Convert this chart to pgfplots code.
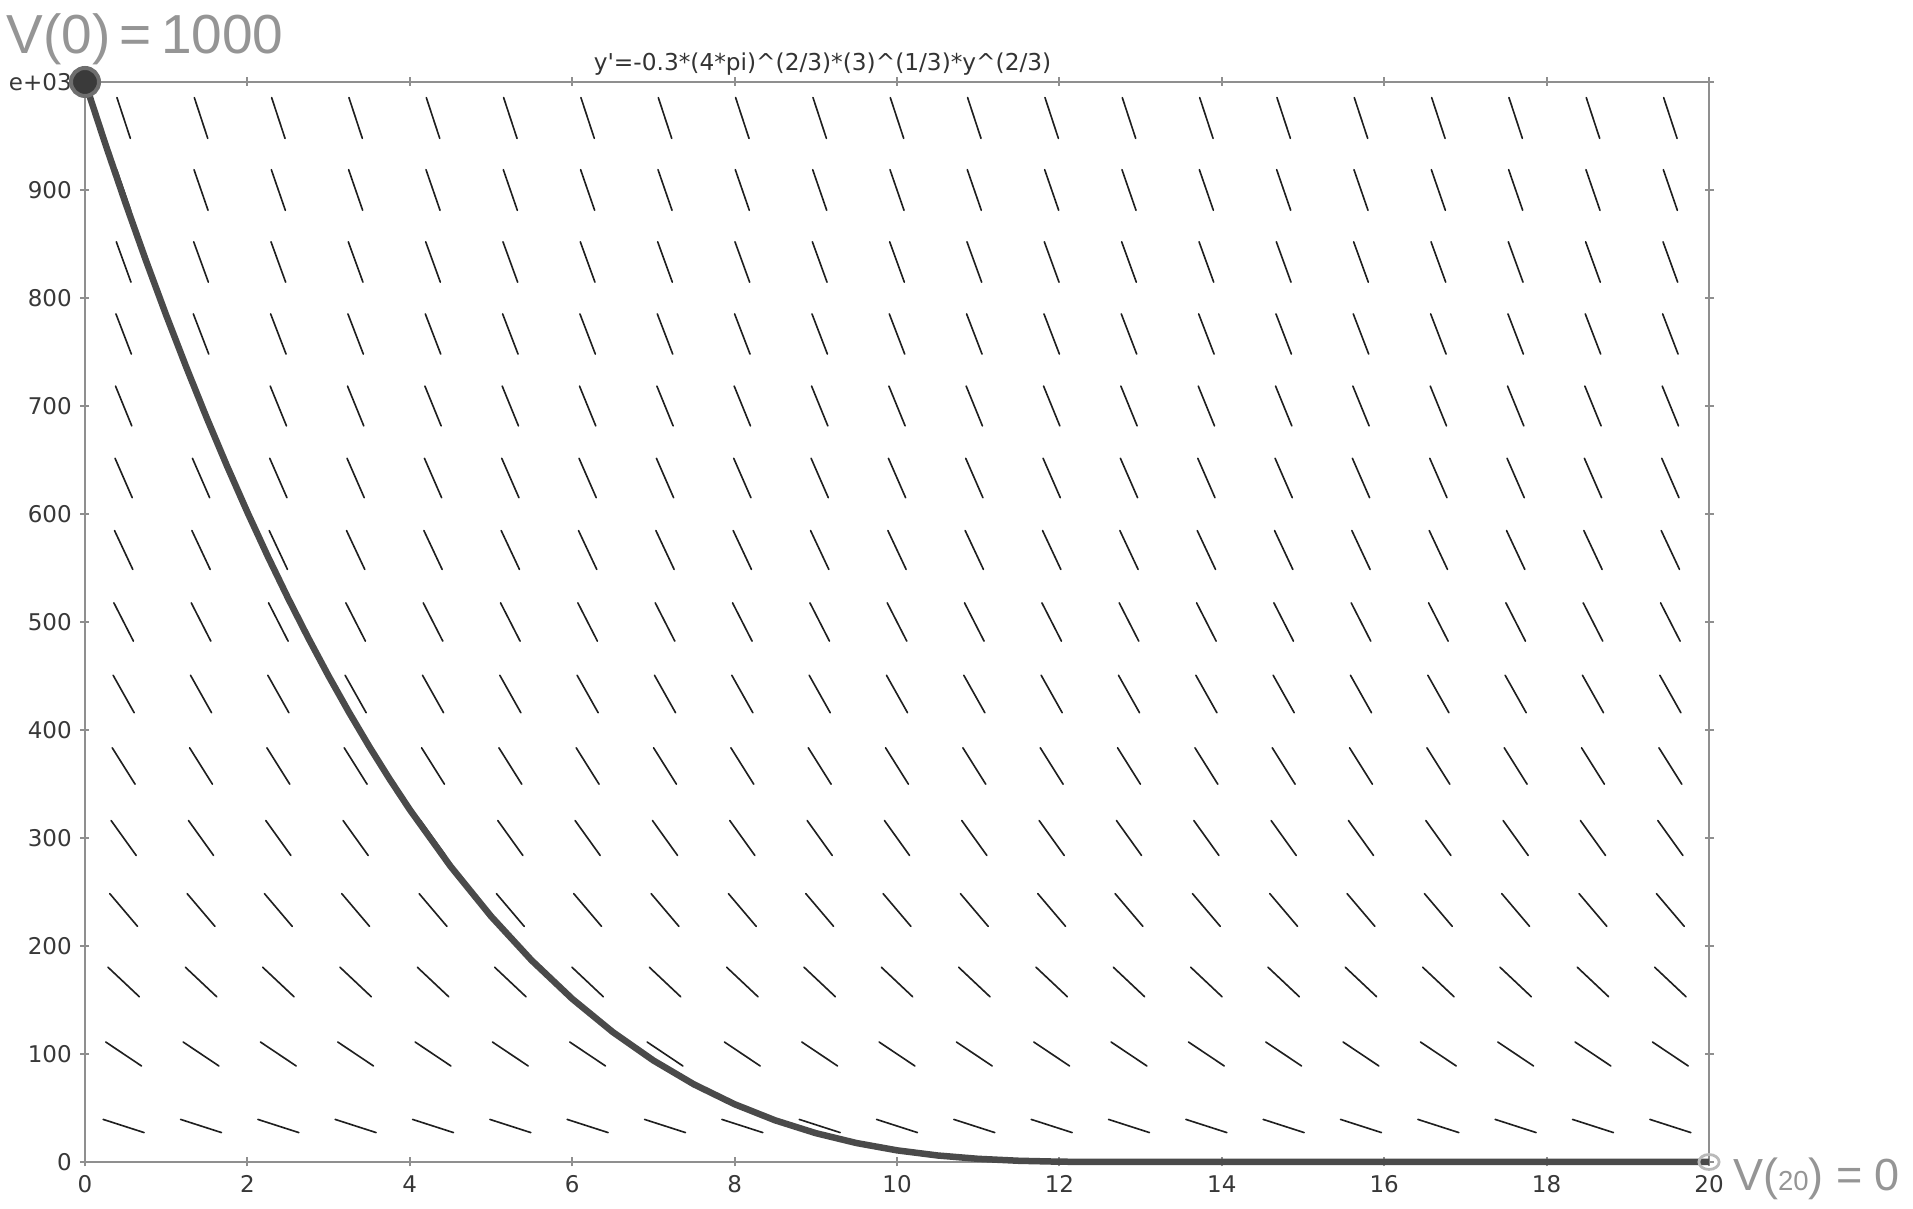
\documentclass[border=0pt]{standalone}
\usepackage{fontspec}
\setmainfont{DejaVu Sans}
\newfontfamily\handfont{Liberation Sans}
\usepackage{pgfplots}
\pgfplotsset{compat=1.18}
\usepackage{pgfplotstable}

\definecolor{axgray}{HTML}{8F8F8F}
\definecolor{curvegray}{HTML}{4A4A4A}
\definecolor{dotdark}{HTML}{3A3A3A}
\definecolor{dotring}{HTML}{6E6E6E}
\definecolor{handgray}{HTML}{959595}

% slope field grid: column centres x, one y column per row
\pgfplotstableread{
x      r01   r02 r03    r04    r05 r06    r07    r08 r09    r10    r11 r12    r13    r14 r15
0.476  33.33 100 166.67 233.33 300 366.67 433.33 500 566.67 633.33 700 766.67 833.33 900 966.67
1.429  33.33 100 166.67 233.33 300 366.67 433.33 500 566.67 633.33 700 766.67 833.33 900 966.67
2.381  33.33 100 166.67 233.33 300 366.67 433.33 500 566.67 633.33 700 766.67 833.33 900 966.67
3.333  33.33 100 166.67 233.33 300 366.67 433.33 500 566.67 633.33 700 766.67 833.33 900 966.67
4.286  33.33 100 166.67 233.33 300 366.67 433.33 500 566.67 633.33 700 766.67 833.33 900 966.67
5.238  33.33 100 166.67 233.33 300 366.67 433.33 500 566.67 633.33 700 766.67 833.33 900 966.67
6.190  33.33 100 166.67 233.33 300 366.67 433.33 500 566.67 633.33 700 766.67 833.33 900 966.67
7.143  33.33 100 166.67 233.33 300 366.67 433.33 500 566.67 633.33 700 766.67 833.33 900 966.67
8.095  33.33 100 166.67 233.33 300 366.67 433.33 500 566.67 633.33 700 766.67 833.33 900 966.67
9.048  33.33 100 166.67 233.33 300 366.67 433.33 500 566.67 633.33 700 766.67 833.33 900 966.67
10.000 33.33 100 166.67 233.33 300 366.67 433.33 500 566.67 633.33 700 766.67 833.33 900 966.67
10.952 33.33 100 166.67 233.33 300 366.67 433.33 500 566.67 633.33 700 766.67 833.33 900 966.67
11.905 33.33 100 166.67 233.33 300 366.67 433.33 500 566.67 633.33 700 766.67 833.33 900 966.67
12.857 33.33 100 166.67 233.33 300 366.67 433.33 500 566.67 633.33 700 766.67 833.33 900 966.67
13.810 33.33 100 166.67 233.33 300 366.67 433.33 500 566.67 633.33 700 766.67 833.33 900 966.67
14.762 33.33 100 166.67 233.33 300 366.67 433.33 500 566.67 633.33 700 766.67 833.33 900 966.67
15.714 33.33 100 166.67 233.33 300 366.67 433.33 500 566.67 633.33 700 766.67 833.33 900 966.67
16.667 33.33 100 166.67 233.33 300 366.67 433.33 500 566.67 633.33 700 766.67 833.33 900 966.67
17.619 33.33 100 166.67 233.33 300 366.67 433.33 500 566.67 633.33 700 766.67 833.33 900 966.67
18.571 33.33 100 166.67 233.33 300 366.67 433.33 500 566.67 633.33 700 766.67 833.33 900 966.67
19.524 33.33 100 166.67 233.33 300 366.67 433.33 500 566.67 633.33 700 766.67 833.33 900 966.67
}\field

\pgfplotsset{seg/.style={black!88, line width=0.65pt, mark=none, line cap=round}}

\begin{document}
\begin{tikzpicture}
\useasboundingbox (-34pt,-18.8pt) rectangle (731.2pt,464.8pt);
\begin{axis}[
  at={(0,0)}, anchor=south west,
  scale only axis, width=649.6pt, height=432pt,
  xmin=0, xmax=20, ymin=0, ymax=1000,
  clip=false,
  axis line style={axgray, line width=0.9pt},
  xtick={0,2,...,20},
  ytick={0,100,...,1000},
  yticklabels={0,100,200,300,400,500,600,700,800,900,e+03},
  tick align=center,
  major tick length=3.6pt,
  tick style={axgray, line width=0.8pt},
  tick label style={font=\fontsize{9.2}{10}\selectfont, text=black!78},
  /pgf/number format/assume math mode=true,
]
% slope segments, one row per y level (u, v in data units)
\addplot[seg, quiver={u=0.5041, v=-12.20}, xshift=-8.187pt, yshift=2.636pt] table[x=x, y=r01] {\field};
\addplot[seg, quiver={u=0.4400, v=-22.16}, xshift=-7.146pt, yshift=4.786pt] table[x=x, y=r02] {\field};
\addplot[seg, quiver={u=0.3856, v=-27.29}, xshift=-6.262pt, yshift=5.895pt] table[x=x, y=r03] {\field};
\addplot[seg, quiver={u=0.3427, v=-30.35}, xshift=-5.566pt, yshift=6.556pt] table[x=x, y=r04] {\field};
\addplot[seg, quiver={u=0.3088, v=-32.34}, xshift=-5.015pt, yshift=6.986pt] table[x=x, y=r05] {\field};
\addplot[seg, quiver={u=0.2817, v=-33.72}, xshift=-4.575pt, yshift=7.283pt] table[x=x, y=r06] {\field};
\addplot[seg, quiver={u=0.2594, v=-34.71}, xshift=-4.212pt, yshift=7.498pt] table[x=x, y=r07] {\field};
\addplot[seg, quiver={u=0.2409, v=-35.46}, xshift=-3.912pt, yshift=7.659pt] table[x=x, y=r08] {\field};
\addplot[seg, quiver={u=0.2251, v=-36.03}, xshift=-3.656pt, yshift=7.784pt] table[x=x, y=r09] {\field};
\addplot[seg, quiver={u=0.2118, v=-36.49}, xshift=-3.439pt, yshift=7.882pt] table[x=x, y=r10] {\field};
\addplot[seg, quiver={u=0.2001, v=-36.86}, xshift=-3.250pt, yshift=7.963pt] table[x=x, y=r11] {\field};
\addplot[seg, quiver={u=0.1898, v=-37.17}, xshift=-3.083pt, yshift=8.029pt] table[x=x, y=r12] {\field};
\addplot[seg, quiver={u=0.1808, v=-37.42}, xshift=-2.937pt, yshift=8.083pt] table[x=x, y=r13] {\field};
\addplot[seg, quiver={u=0.1727, v=-37.63}, xshift=-2.805pt, yshift=8.129pt] table[x=x, y=r14] {\field};
\addplot[seg, quiver={u=0.1655, v=-37.82}, xshift=-2.688pt, yshift=8.169pt] table[x=x, y=r15] {\field};

% solution curve V(t)
\addplot[curvegray, line width=2.6pt, line join=round, mark=none] coordinates {
  (0,1000) (0.25,942.7) (0.5,887.65) (0.75,834.78) (1,784.03) (1.25,735.41)
  (1.5,688.81) (1.75,644.26) (2,601.64) (2.25,560.96) (2.5,522.15) (2.75,485.18)
  (3,449.99) (3.25,416.55) (3.5,384.80) (3.75,354.71) (4,326.23) (4.5,273.93)
  (5,227.54) (5.5,186.71) (6,151.08) (6.5,120.30) (7,94.01) (7.5,71.86)
  (8,53.50) (8.5,38.56) (9,26.70) (9.5,17.57) (10,10.79) (10.5,6.03)
  (11,2.93) (11.5,1.13) (12,0.28) (12.5,0.02) (12.84,0) (20,0)
};
% start point and end point
\addplot[only marks, mark=*, mark size=5.6pt, mark options={fill=dotdark, draw=dotring, line width=1.6pt}] coordinates {(0,1000)};
\addplot[only marks, mark=o, mark size=3pt, mark options={draw=gray!55, line width=1.1pt, xscale=1.35}] coordinates {(20,0)};

\node[font=\fontsize{9.3}{10}\selectfont, text=black!80, anchor=base west, inner sep=0pt]
  at ([yshift=4.4pt]rel axis cs:0.313,1) {y\textquotesingle=-0.3*(4*pi)\textasciicircum(2/3)*(3)\textasciicircum(1/3)*y\textasciicircum(2/3)};
\end{axis}
% handwritten notes
\node[font=\handfont\fontsize{22}{22}\selectfont, text=handgray, anchor=base west, inner sep=0pt] at (-31.5pt,443.5pt) {V(0)\,=\,1000};
\node[font=\handfont\fontsize{18}{18}\selectfont, text=handgray, anchor=base west, inner sep=0pt] at (659pt,-11.5pt) {V({\fontsize{11}{11}\selectfont 20}) = 0};
\end{tikzpicture}
\end{document}
